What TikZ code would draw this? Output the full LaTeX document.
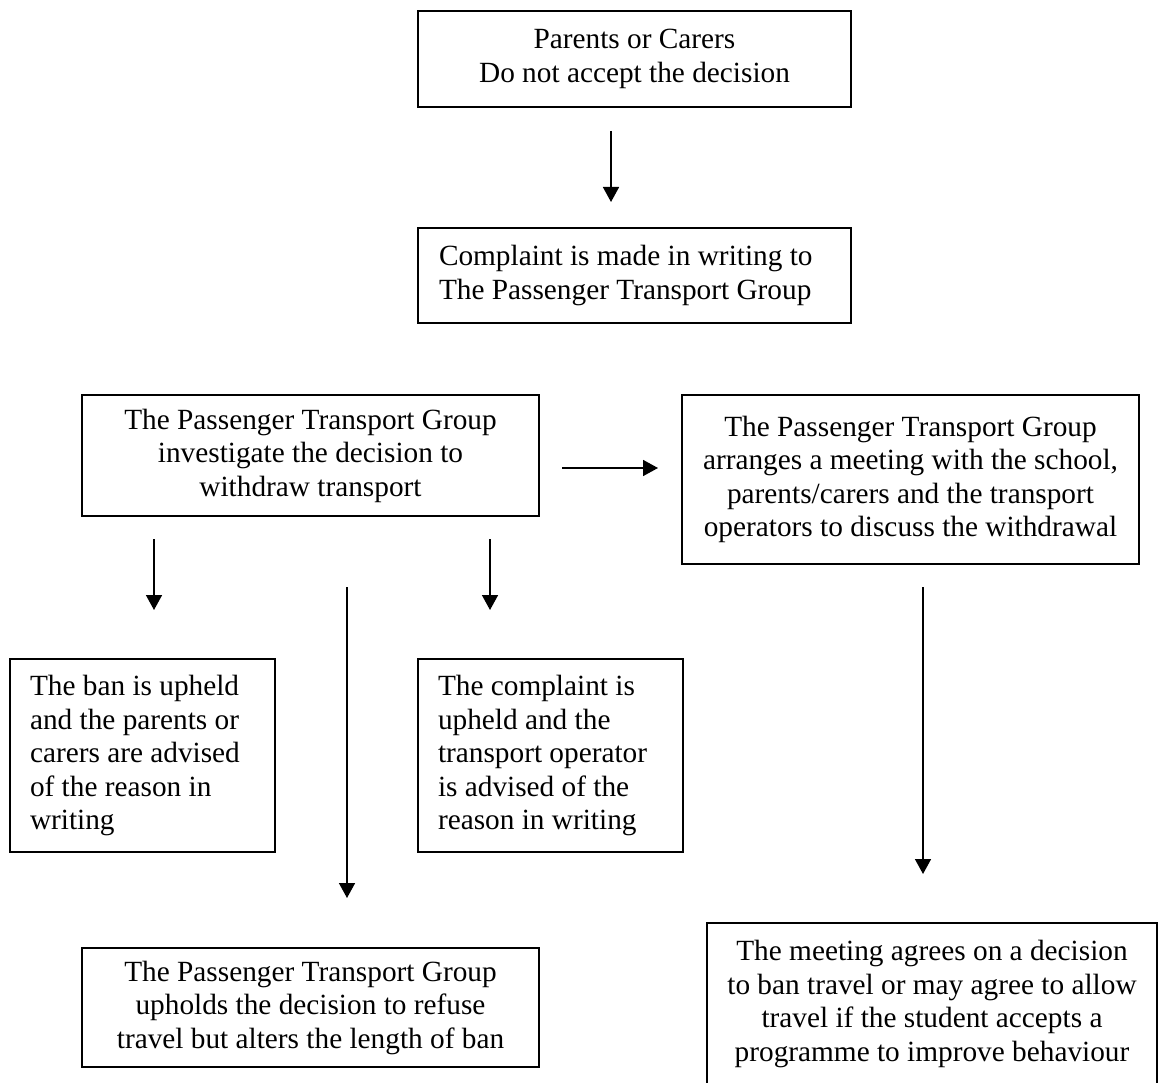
\documentclass[tikz,border=0pt]{standalone}
\usepackage{fontspec}
\setmainfont{Liberation Serif}
\usetikzlibrary{arrows.meta}
\begin{document}
\begin{tikzpicture}[x=1pt,y=-1pt,
  box/.style={draw=black, line width=1.6pt, inner sep=0pt, font=\fontsize{29.3pt}{33.5pt}\selectfont},
  cbox/.style={box, align=center},
  lbox/.style={box, align=flush left},
  conn/.style={line width=1.6pt, -{Triangle[length=15pt,width=16pt]}}
]
\useasboundingbox (0,0) rectangle (1158,1083);
\clip (0,0) rectangle (1158,1083);
\node[cbox, minimum width=433pt, minimum height=96pt] (b1) at (634.5,59) {Parents or Carers\\Do not accept the decision};
\node[lbox, text width=391pt, minimum width=433pt, minimum height=95pt] (b2) at (634.5,275.5) {Complaint is made in writing to\\The Passenger Transport Group};
\node[cbox, minimum width=457pt, minimum height=121pt] (b3) at (310.5,455.5) {The Passenger Transport Group\\investigate the decision to\\withdraw transport};
\node[cbox, minimum width=457pt, minimum height=169pt] (b4) at (910.5,479.5) {The Passenger Transport Group\\arranges a meeting with the school,\\parents/carers and the transport\\operators to discuss the withdrawal};
\node[lbox, text width=225pt, minimum width=265pt, minimum height=193pt] (b5) at (142.5,755.5) {The ban is upheld\\and the parents or\\carers are advised\\of the reason in\\writing};
\node[lbox, text width=225pt, minimum width=265pt, minimum height=193pt] (b6) at (550.5,755.5) {The complaint is\\upheld and the\\transport operator\\is advised of the\\reason in writing};
\node[cbox, minimum width=457pt, minimum height=119pt] (b7) at (310.5,1007.5) {The Passenger Transport Group\\upholds the decision to refuse\\travel but alters the length of ban};
\node[cbox, minimum width=450pt, minimum height=162pt] (b8) at (932,1004) {The meeting agrees on a decision\\to ban travel or may agree to allow\\travel if the student accepts a\\programme to improve behaviour};

\coordinate (a1s) at (611,131);
\coordinate (a1e) at (611,202);
\coordinate (ahs) at (562,468);
\coordinate (ahe) at (658,468);
\coordinate (als) at (154,539);
\coordinate (ale) at (154,610);
\coordinate (ars) at (490,539);
\coordinate (are) at (490,610);
\coordinate (ams) at (347,587);
\coordinate (ame) at (347,898);
\coordinate (a2s) at (923,587);
\coordinate (a2e) at (923,874);

\draw[conn] (a1s) -- (a1e);
\draw[conn] (ahs) -- (ahe);
\draw[conn] (als) -- (ale);
\draw[conn] (ars) -- (are);
\draw[conn] (ams) -- (ame);
\draw[conn] (a2s) -- (a2e);
\end{tikzpicture}
\end{document}
